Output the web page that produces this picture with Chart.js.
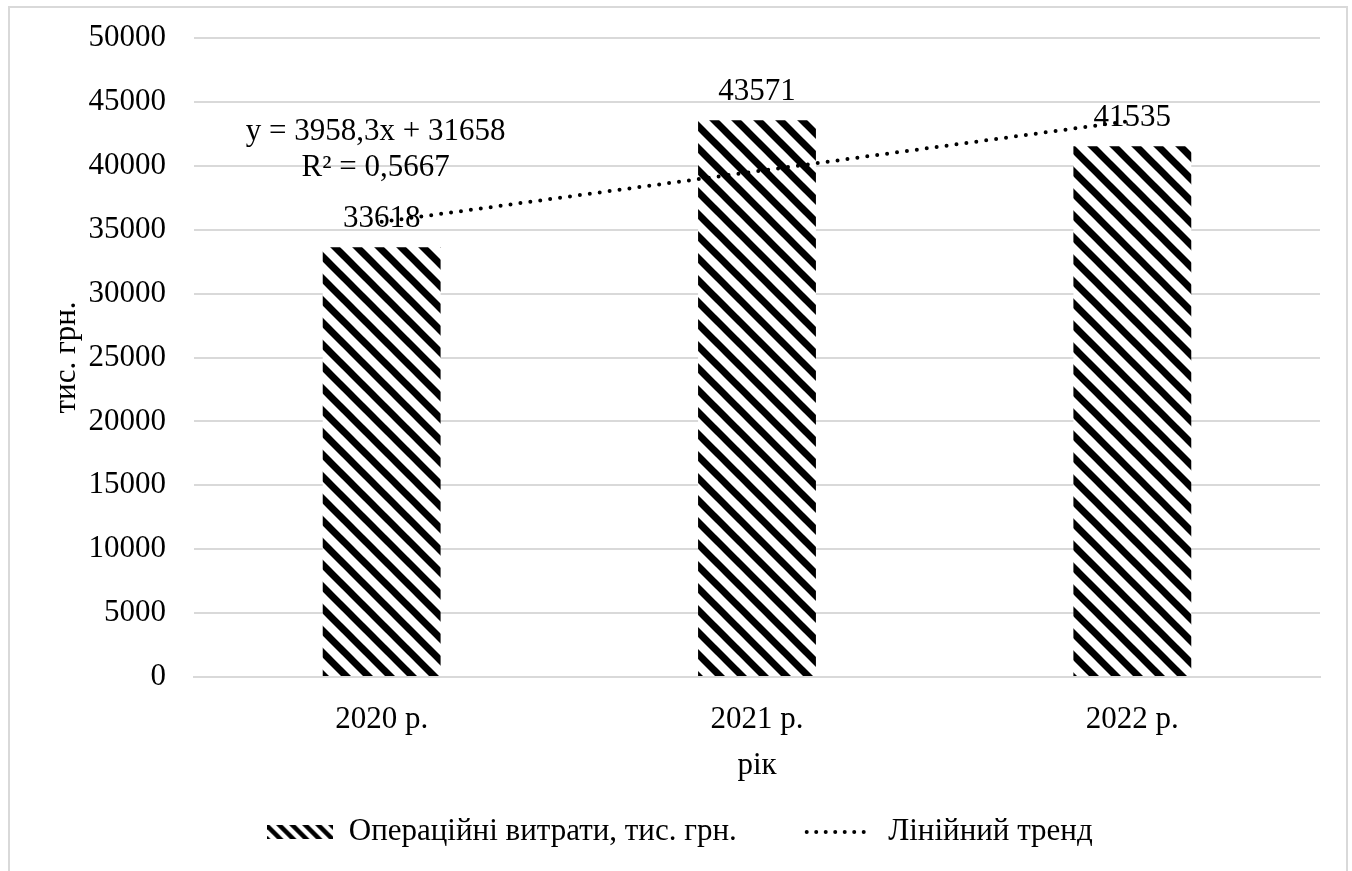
<!DOCTYPE html>
<html lang="uk">
<head>
<meta charset="utf-8">
<script src="https://cdn.jsdelivr.net/npm/chart.js@4"></script>
<style>
  html, body { margin: 0; padding: 0; background: #fff; }
  #wrap { width: 1352px; height: 871px; }
</style>
</head>
<body>
<div id="wrap"><canvas id="chart"></canvas></div>
<script>
const years = ['2020 р.', '2021 р.', '2022 р.'];
const costs = [33618, 43571, 41535];
// linear trend
const trendValues = [35616, 39575, 43533];
const trendEquation = ['y = 3958,3x + 31658', 'R² = 0,5667'];
const yTicks = [0, 5000, 10000, 15000, 20000, 25000, 30000, 35000, 40000, 45000, 50000];

const FONT = "'Liberation Serif', 'Times New Roman', serif";
const SIZE = 31;

// diagonal "\" stripes, drawn long so the tile edges join up
function drawStripes(g, w, h, p, lw) {
  g.fillStyle = '#fff';
  g.fillRect(0, 0, w, h);
  g.strokeStyle = '#000';
  g.lineWidth = lw;
  for (let off = -h - p; off <= w + p; off += p) {
    g.beginPath();
    g.moveTo(off - p, -p);
    g.lineTo(off + h + p, h + p);
    g.stroke();
  }
}

function hatchPattern() {
  const p = 22;
  const c = document.createElement('canvas');
  c.width = p; c.height = p;
  const g = c.getContext('2d');
  drawStripes(g, p, p, p, 7);
  return g.createPattern(c, 'repeat');
}

function legendSwatch() {
  const c = document.createElement('canvas');
  c.width = 66; c.height = 14;
  drawStripes(c.getContext('2d'), 66, 14, 13, 4.5);
  return c;
}

const frame = {
  id: 'frame',
  beforeDraw(chart) {
    const ctx = chart.ctx;
    ctx.save();
    ctx.fillStyle = '#fff';
    ctx.fillRect(0, 0, chart.width, chart.height);
    ctx.strokeStyle = '#d9d9d9';
    ctx.lineWidth = 2;
    ctx.strokeRect(9, 7, 1338, 900);
    ctx.restore();
  }
};

const valueLabels = {
  id: 'valueLabels',
  afterDatasetDraw(chart, args) {
    if (args.index !== 0) return;
    const ctx = chart.ctx;
    ctx.save();
    ctx.font = SIZE + 'px ' + FONT;
    ctx.fillStyle = '#000';
    ctx.textAlign = 'center';
    ctx.textBaseline = 'alphabetic';
    args.meta.data.forEach((bar, i) => {
      ctx.fillText(String(costs[i]), bar.x, bar.y - 20);
    });
    ctx.restore();
  },
  afterDatasetsDraw(chart) {
    const ctx = chart.ctx;
    const x = chart.scales.x.getPixelForValue(0) - 6;
    const y0 = chart.scales.y.getPixelForValue(trendValues[0]);
    ctx.save();
    ctx.font = SIZE + 'px ' + FONT;
    ctx.fillStyle = '#000';
    ctx.textAlign = 'center';
    ctx.fillText(trendEquation[0], x, y0 - 90);
    ctx.fillText(trendEquation[1], x, y0 - 54);
    ctx.restore();
  }
};

const swatch = legendSwatch();

new Chart(document.getElementById('chart'), {
  data: {
    labels: years,
    datasets: [{
      type: 'bar',
      label: 'Операційні витрати, тис. грн.',
      data: costs,
      backgroundColor: hatchPattern(),
      borderWidth: 0,
      categoryPercentage: 1,
      barPercentage: 0.314,
      order: 1
    }, {
      type: 'line',
      label: 'Лінійний тренд',
      data: trendValues,
      borderColor: '#000',
      borderWidth: 4,
      borderDash: [0, 10],
      borderCapStyle: 'round',
      pointRadius: 0,
      fill: false,
      order: 0
    }]
  },
  options: {
    responsive: true,
    maintainAspectRatio: false,
    animation: false,
    layout: { padding: { left: 40, right: 32, top: 38, bottom: 13.5 } },
    plugins: {
      tooltip: { enabled: false },
      legend: {
        position: 'bottom',
        labels: {
          font: { family: FONT, size: SIZE },
          color: '#000',
          padding: 70,
          usePointStyle: true,
          pointStyleWidth: 66,
          boxHeight: 14,
          generateLabels(chart) {
            return chart.data.datasets.map((ds, i) => ({
              text: ds.label,
              datasetIndex: i,
              fontColor: '#000',
              fillStyle: '#000',
              strokeStyle: '#000',
              lineWidth: i === 0 ? 0 : 4,
              lineDash: i === 0 ? [] : [0, 9.5],
              lineCap: 'round',
              pointStyle: i === 0 ? swatch : 'line',
              hidden: false
            }));
          }
        }
      }
    },
    scales: {
      x: {
        grid: { display: false, drawTicks: false },
        border: { display: true, color: '#d9d9d9', width: 2 },
        ticks: { font: { family: FONT, size: SIZE }, color: '#000', padding: 24 },
        title: {
          display: true,
          text: 'рік',
          font: { family: FONT, size: SIZE },
          color: '#000',
          padding: { top: 0, bottom: -38 }
        },
        afterFit(scale) { scale.height = 69.5; }
      },
      y: {
        min: 0,
        max: 50000,
        afterBuildTicks(scale) { scale.ticks = yTicks.map(v => ({ value: v })); },
        grid: { color: '#d9d9d9', lineWidth: 2, drawTicks: false },
        border: { display: false },
        ticks: {
          font: { family: FONT, size: SIZE },
          color: '#000',
          padding: 28,
          callback: v => String(v)
        },
        title: {
          display: true,
          text: 'тис. грн.',
          font: { family: FONT, size: SIZE },
          color: '#000',
          padding: { top: 8, bottom: 0 }
        },
        afterFit(scale) {
          scale.width = 154;
          scale.paddingTop = 10;
        }
      }
    }
  },
  plugins: [frame, valueLabels]
});
</script>
</body>
</html>
